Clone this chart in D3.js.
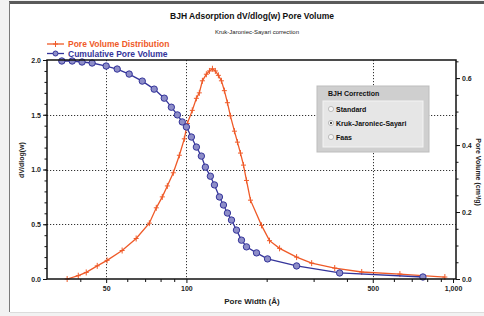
<!DOCTYPE html>
<html>
<head>
<meta charset="utf-8">
<script src="https://cdn.jsdelivr.net/npm/d3@7"></script>
<style>
  html, body { margin: 0; padding: 0; background: #fff; }
  svg { display: block; font-family: "Liberation Sans", Arial, sans-serif; }
</style>
</head>
<body>
<div id="chart"></div>
<script>
// Pore Volume Distribution (dV/dlog(w), left axis)
const distWidth = [35.7, 39.3, 42.1, 46.3, 50.4, 57.4, 64.8, 72.6, 77.1, 81.2, 84.8, 89.3, 94.1, 98.2,
  100.8, 105.2, 109, 111.8, 114.8, 118.8, 122, 125.2, 128.4, 131.8, 135.3, 138.8, 142.5, 146.2,
  151.4, 155.4, 159.5, 163.7, 168, 173.9, 191.3, 205, 223.6, 259, 295, 360, 454.5, 632, 932];
const distValue = [0.0, 0.03, 0.06, 0.12, 0.17, 0.26, 0.37, 0.51, 0.65, 0.75, 0.85, 0.97, 1.13, 1.28,
  1.42, 1.54, 1.65, 1.70, 1.81, 1.87, 1.90, 1.92, 1.90, 1.86, 1.81, 1.72, 1.61, 1.49,
  1.35, 1.25, 1.15, 1.04, 0.90, 0.72, 0.49, 0.35, 0.28, 0.20, 0.145, 0.10, 0.064, 0.045, 0.018];

// Cumulative Pore Volume (cm³/g, right axis)
const cumWidth = [34.1, 37.3, 40.6, 44.3, 50, 55, 61, 68.3, 75.7, 82.6, 87.8, 92.5, 96.5, 100,
  104.4, 109, 113.8, 117.8, 123, 127.4, 133, 137.7, 142.5, 147.6, 154.1, 160.9, 168, 183.2,
  201.5, 259, 375.6, 771];
const cumValue = [0.651, 0.651, 0.648, 0.645, 0.636, 0.627, 0.612, 0.591, 0.567, 0.540, 0.513, 0.490, 0.469, 0.454,
  0.424, 0.394, 0.367, 0.334, 0.307, 0.281, 0.245, 0.221, 0.197, 0.176, 0.146, 0.116, 0.096, 0.078,
  0.060, 0.039, 0.018, 0.006];

// eixos
const xMajor = [50, 100, 500, 1000];
const xMinor = [40, 60, 70, 80, 90, 200, 300, 400, 600, 700, 800, 900];
const yLeftMajor = [0, 0.5, 1.0, 1.5, 2.0];
const yLeftMinor = d3.range(0, 2.001, 0.1);
const yRightMajor = [0, 0.2, 0.4, 0.6];
const yRightMinor = d3.range(0, 0.651, 0.05);
const gridX = [50, 100, 500];
const gridY = [0.5, 1.0, 1.5];
const correctionOptions = ["Standard", "Kruk-Jaroniec-Sayari", "Faas"];
const selectedOption = "Kruk-Jaroniec-Sayari";

const W = 484, H = 316;
const plot = { left: 47, right: 456, top: 60, bottom: 279 };
const orange = "#ef5a28";
const blue = "#34349a";

const svg = d3.select("#chart").append("svg")
  .attr("width", W).attr("height", H);

// moldura
svg.append("rect").attr("width", W).attr("height", H).attr("fill", "#f2f2f2");
svg.append("rect").attr("x", 10).attr("y", 4).attr("width", W - 10).attr("height", 308).attr("fill", "#fff");
svg.append("line").attr("x1", 9).attr("x2", W).attr("y1", 2.5).attr("y2", 2.5)
  .attr("stroke", "#5a5a5a").attr("stroke-width", 3);
svg.append("line").attr("x1", 9.5).attr("x2", 9.5).attr("y1", 2).attr("y2", 312)
  .attr("stroke", "#7a7a7a").attr("stroke-width", 1);
svg.append("line").attr("x1", 10).attr("x2", W).attr("y1", 312.5).attr("y2", 312.5)
  .attr("stroke", "#dcdcdc").attr("stroke-width", 1);

const x = d3.scaleLog().domain([30, 1026]).range([plot.left, plot.right]);
const yL = d3.scaleLinear().domain([0, 2]).range([plot.bottom, plot.top]);
const yR = d3.scaleLinear().domain([0, 0.654]).range([plot.bottom, plot.top]);

// títulos
svg.append("text").attr("x", 252).attr("y", 19).attr("text-anchor", "middle")
  .attr("font-size", "8.5px").attr("font-weight", "bold").attr("fill", "#111")
  .text("BJH Adsorption dV/dlog(w) Pore Volume");
svg.append("text").attr("x", 257).attr("y", 34).attr("text-anchor", "middle")
  .attr("font-size", "6px").attr("fill", "#222")
  .text("Kruk-Jaroniec-Sayari correction");

// grade pontilhada
const grid = svg.append("g").attr("stroke", "#333").attr("stroke-width", 1).attr("stroke-dasharray", "1.2,1.8");
gridY.forEach(v => {
  grid.append("line").attr("x1", plot.left).attr("x2", plot.right)
    .attr("y1", Math.round(yL(v)) + 0.5).attr("y2", Math.round(yL(v)) + 0.5);
});
gridX.forEach(v => {
  grid.append("line").attr("y1", plot.top).attr("y2", plot.bottom)
    .attr("x1", Math.round(x(v)) + 0.5).attr("x2", Math.round(x(v)) + 0.5);
});

// caixa BJH Correction
const box = svg.append("g").attr("transform", "translate(317,86)");
box.append("rect").attr("width", 112).attr("height", 66).attr("fill", "#cfcfcf").attr("stroke", "#bdbdbd");
box.append("rect").attr("x", 6).attr("y", 15).attr("width", 100).attr("height", 46).attr("fill", "#e6e6e6")
  .attr("stroke", "#f4f4f4");
box.append("text").attr("x", 11).attr("y", 10).attr("font-size", "7px").attr("font-weight", "bold")
  .attr("fill", "#111").text("BJH Correction");
correctionOptions.forEach((opt, i) => {
  const yy = 23 + i * 14;
  box.append("circle").attr("cx", 14).attr("cy", yy).attr("r", 2.6)
    .attr("fill", "#f6f6f6").attr("stroke", "#9a9a9a").attr("stroke-width", 0.6);
  if (opt === selectedOption) {
    box.append("circle").attr("cx", 14).attr("cy", yy).attr("r", 1).attr("fill", "#111");
  }
  box.append("text").attr("x", 19).attr("y", yy + 2.5).attr("font-size", "7px").attr("font-weight", "bold")
    .attr("fill", "#111").text(opt);
});

// curvas
const lineDist = d3.line().x((d, i) => x(distWidth[i])).y(d => yL(d));
const lineCum = d3.line().x((d, i) => x(cumWidth[i])).y(d => yR(d));

svg.append("path").attr("d", lineDist(distValue)).attr("fill", "none")
  .attr("stroke", orange).attr("stroke-width", 1.3);
svg.append("g").selectAll("path").data(distValue).join("path")
  .attr("d", (d, i) => {
    const px = x(distWidth[i]), py = yL(d);
    return `M${px - 2.5},${py}H${px + 2.5}M${px},${py - 3}V${py + 3}`;
  })
  .attr("stroke", orange).attr("stroke-width", 1);

svg.append("path").attr("d", lineCum(cumValue)).attr("fill", "none")
  .attr("stroke", blue).attr("stroke-width", 1.3);
svg.append("g").selectAll("circle").data(cumValue).join("circle")
  .attr("cx", (d, i) => x(cumWidth[i])).attr("cy", d => yR(d)).attr("r", 3.2)
  .attr("fill", "#8d8dc8").attr("stroke", blue).attr("stroke-width", 1);

// eixos
function styleAxis(g) {
  g.select(".domain").remove();
  g.selectAll("line").attr("stroke", "#111").attr("stroke-width", 1);
  g.selectAll("text").attr("font-size", "7px").attr("font-weight", "bold").attr("fill", "#222")
    .attr("font-family", "Liberation Sans, Arial, sans-serif");
}
const fmtX = d3.format(",");
svg.append("g").attr("transform", `translate(0,${plot.bottom})`)
  .call(d3.axisBottom(x).tickValues(xMajor).tickFormat(fmtX).tickSize(4).tickPadding(3)).call(styleAxis);
svg.append("g").attr("transform", `translate(0,${plot.bottom})`)
  .call(d3.axisBottom(x).tickValues(xMinor).tickFormat("").tickSize(3)).call(styleAxis);

svg.append("g").attr("transform", `translate(${plot.left},0)`)
  .call(d3.axisLeft(yL).tickValues(yLeftMajor).tickFormat(d3.format(".1f")).tickSize(4).tickPadding(2)).call(styleAxis);
svg.append("g").attr("transform", `translate(${plot.left},0)`)
  .call(d3.axisLeft(yL).tickValues(yLeftMinor).tickFormat("").tickSize(2.5)).call(styleAxis);

svg.append("g").attr("transform", `translate(${plot.right},0)`)
  .call(d3.axisRight(yR).tickValues(yRightMajor).tickFormat(d3.format(".1f")).tickSize(4).tickPadding(2)).call(styleAxis);
svg.append("g").attr("transform", `translate(${plot.right},0)`)
  .call(d3.axisRight(yR).tickValues(yRightMinor).tickFormat("").tickSize(2.5)).call(styleAxis);

// contorno da área
svg.append("rect").attr("x", plot.left).attr("y", plot.top)
  .attr("width", plot.right - plot.left).attr("height", plot.bottom - plot.top)
  .attr("fill", "none").attr("stroke", "#111").attr("stroke-width", 1.5);

// rótulos dos eixos
svg.append("text").attr("transform", "translate(24,160) rotate(-90)").attr("text-anchor", "middle")
  .attr("font-size", "7px").attr("font-weight", "bold").attr("fill", "#222").text("dV/dlog(w)");
svg.append("text").attr("transform", "translate(476,172) rotate(90)").attr("text-anchor", "middle")
  .attr("font-size", "7px").attr("font-weight", "bold").attr("fill", "#222").text("Pore Volume (cm³/g)");
svg.append("text").attr("x", 252).attr("y", 304).attr("text-anchor", "middle")
  .attr("font-size", "8px").attr("font-weight", "bold").attr("fill", "#222").text("Pore Width (Å)");

// legenda
const legend = svg.append("g");
legend.append("line").attr("x1", 47).attr("x2", 64).attr("y1", 44).attr("y2", 44)
  .attr("stroke", orange).attr("stroke-width", 1.3);
legend.append("path").attr("d", "M53,44H58M55.5,41V47").attr("stroke", orange).attr("stroke-width", 1);
legend.append("text").attr("x", 68).attr("y", 47).attr("font-size", "8.5px").attr("font-weight", "bold")
  .attr("fill", orange).text("Pore Volume Distribution");
legend.append("line").attr("x1", 47).attr("x2", 64).attr("y1", 53.5).attr("y2", 53.5)
  .attr("stroke", blue).attr("stroke-width", 1.3);
legend.append("circle").attr("cx", 55.5).attr("cy", 53.5).attr("r", 2.5)
  .attr("fill", "#8d8dc8").attr("stroke", blue).attr("stroke-width", 1);
legend.append("text").attr("x", 68).attr("y", 56.5).attr("font-size", "8.5px").attr("font-weight", "bold")
  .attr("fill", blue).text("Cumulative Pore Volume");
</script>
</body>
</html>
